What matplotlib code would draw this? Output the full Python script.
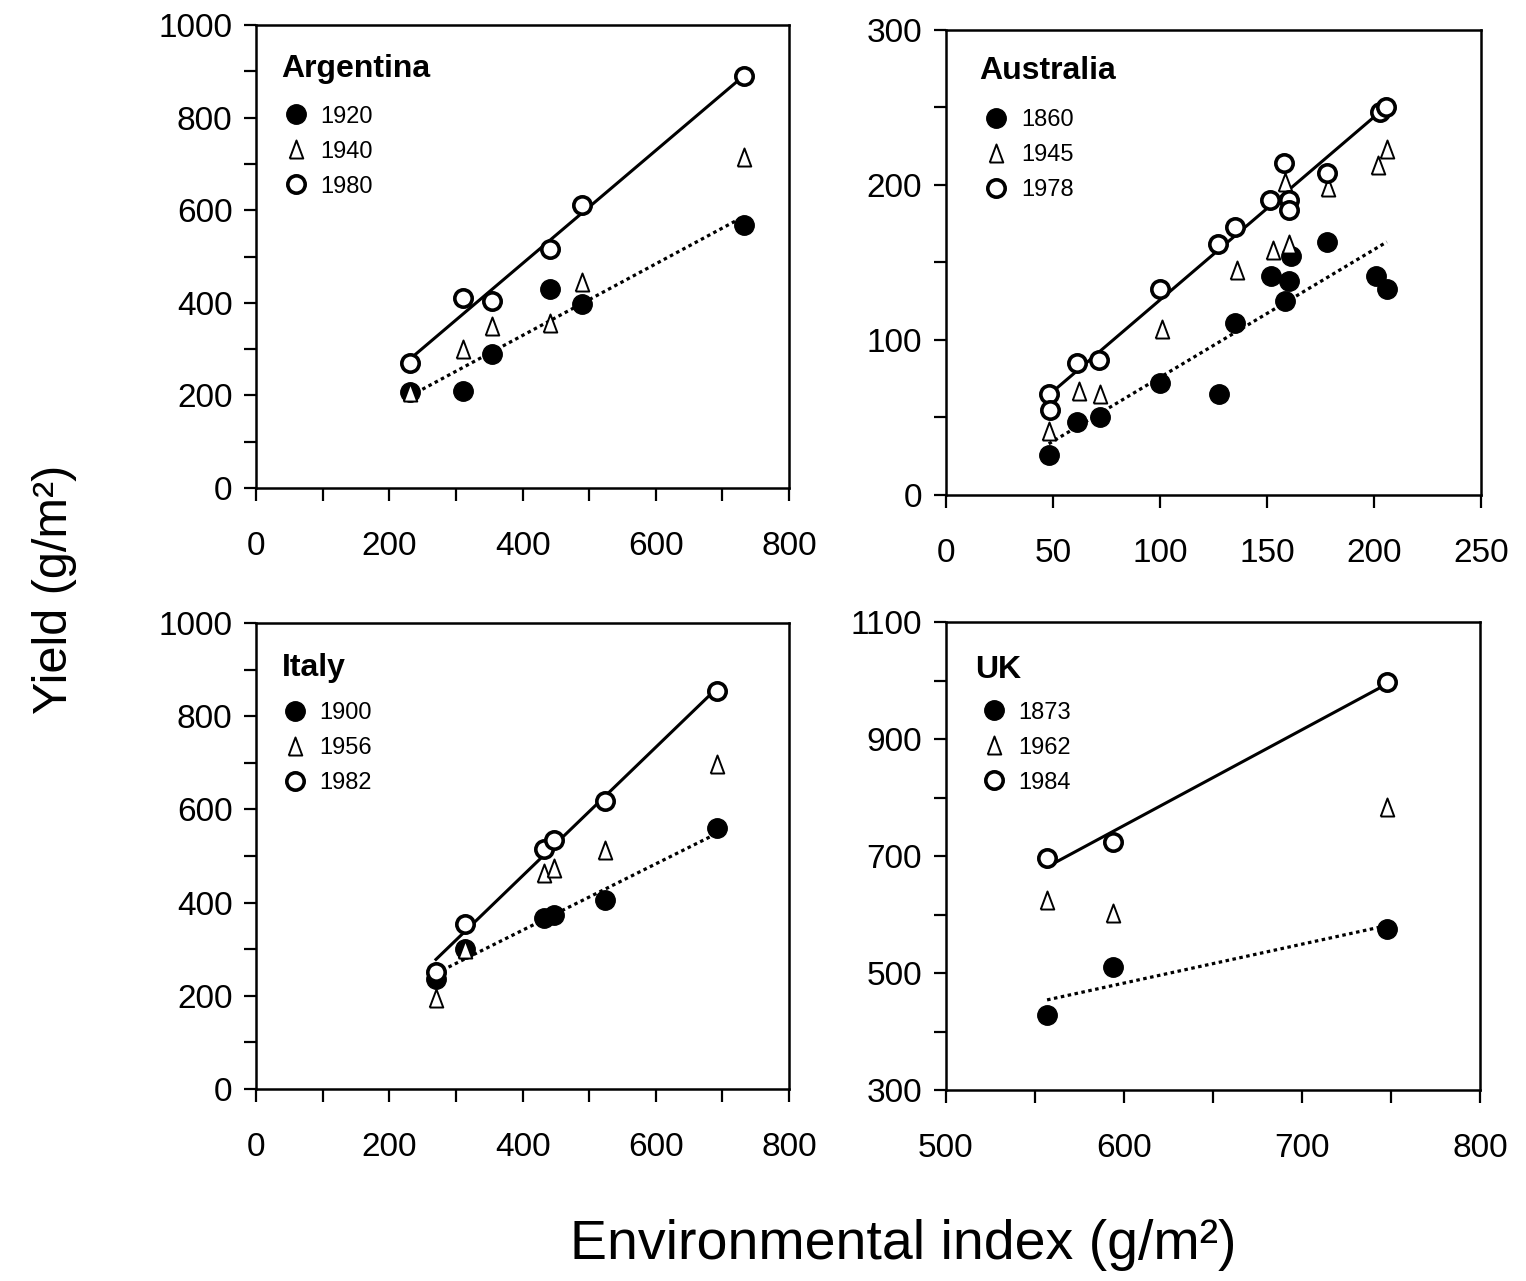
import numpy as np
import matplotlib
matplotlib.use("Agg")
import matplotlib.pyplot as plt
from matplotlib.ticker import MultipleLocator

plt.rcParams['font.family'] = ['Liberation Sans', 'DejaVu Sans']

# Argentina
arg_x = [231, 311, 354, 441, 489, 733]
arg_1920 = [207, 209, 290, 429, 397, 569]
arg_1940 = [207, 300, 350, 357, 446, 715]
arg_1980 = [271, 410, 405, 516, 612, 891]

# Australia (points per series, some hidden under others)
aus_1860_x = [48, 61, 72, 100, 127.5, 135, 152, 158.5, 160.5, 161, 178, 201, 206]
aus_1860_y = [26, 47, 50, 72, 65, 111, 141, 125, 138, 154, 163, 141, 133]
aus_1945_x = [48, 62, 72, 101, 136, 153, 158.5, 160.5, 178.5, 202, 206]
aus_1945_y = [41, 67, 65, 107, 145, 158, 202, 162, 199, 213, 223]
aus_1978_x = [48, 48.5, 61, 71.5, 100, 127, 135, 151.5, 158, 160.5, 160.5, 178, 203, 205.5]
aus_1978_y = [65, 55, 85, 87, 133, 162, 173, 190, 214, 190, 184, 208, 247, 250]

# Italy
ita_x = [270, 313, 432, 447, 524, 692]
ita_1900 = [237, 300, 367, 373, 405, 560]
ita_1956 = [195, 300, 463, 474, 512, 697]
ita_1982 = [251, 355, 516, 534, 617, 855]

# UK
uk_x = [557, 594, 748]
uk_1873 = [428, 511, 575]
uk_1962 = [625, 602, 784]
uk_1984 = [696, 724, 998]

tri = [(-0.75, -1.0), (0.75, -1.0), (0.0, 1.0), (-0.75, -1.0)]

panels = [
    dict(name='Argentina', rect=[0.1678, 0.6190, 0.3493, 0.3614],
         early=(arg_x, arg_1920, '1920'), mid=(arg_x, arg_1940, '1940'), late=(arg_x, arg_1980, '1980'),
         xlim=(0, 800), ylim=(0, 1000), xmaj=(200, 0), xmin=100, ymaj=(200, 0), ymin=100,
         title_xy=(0.048, 0.905), leg_xy=(0.052, 0.826)),
    dict(name='Australia', rect=[0.6199, 0.6136, 0.3506, 0.3630],
         early=(aus_1860_x, aus_1860_y, '1860'), mid=(aus_1945_x, aus_1945_y, '1945'),
         late=(aus_1978_x, aus_1978_y, '1978'),
         xlim=(0, 250), ylim=(0, 300), xmaj=(50, 0), xmin=50, ymaj=(100, 0), ymin=50,
         title_xy=(0.063, 0.912), leg_xy=(0.072, 0.83)),
    dict(name='Italy', rect=[0.1678, 0.1499, 0.3493, 0.3638],
         early=(ita_x, ita_1900, '1900'), mid=(ita_x, ita_1956, '1956'), late=(ita_x, ita_1982, '1982'),
         xlim=(0, 800), ylim=(0, 1000), xmaj=(200, 0), xmin=100, ymaj=(200, 0), ymin=100,
         title_xy=(0.048, 0.903), leg_xy=(0.050, 0.83)),
    dict(name='UK', rect=[0.6196, 0.1491, 0.3503, 0.3653],
         early=(uk_x, uk_1873, '1873'), mid=(uk_x, uk_1962, '1962'), late=(uk_x, uk_1984, '1984'),
         xlim=(500, 800), ylim=(300, 1100), xmaj=(100, 0), xmin=50, ymaj=(200, 100), ymin=100,
         title_xy=(0.055, 0.897), leg_xy=(0.068, 0.83)),
]

fig = plt.figure(figsize=(15.26, 12.81), dpi=100)

for p in panels:
    ax = fig.add_axes(p['rect'])
    ex, ey, elab = p['early']
    mx, my, mlab = p['mid']
    lx, ly, llab = p['late']

    # regression lines: earliest year dotted, latest year solid
    for xs, ys, ls in [(ex, ey, (0, (1.1, 1.1))), (lx, ly, '-')]:
        xs = np.asarray(xs, float)
        ys = np.asarray(ys, float)
        k, b = np.polyfit(xs, ys, 1)
        xx = np.array([xs.min(), xs.max()])
        ax.plot(xx, k * xx + b, color='black', lw=2.3 if ls != '-' else 2.2, linestyle=ls, zorder=2)

    h1, = ax.plot(ex, ey, linestyle='none', marker='o', ms=14, mfc='black', mec='black', zorder=3, label=elab)
    h2, = ax.plot(mx, my, linestyle='none', marker=tri, ms=13, mfc='white', mec='black', mew=1.4,
                  zorder=4, label=mlab)
    h3, = ax.plot(lx, ly, linestyle='none', marker='o', ms=12.5, mfc='white', mec='black', mew=2.6,
                  zorder=5, label=llab)

    ax.set_xlim(*p['xlim'])
    ax.set_ylim(*p['ylim'])
    ax.xaxis.set_major_locator(MultipleLocator(p['xmaj'][0], offset=p['xmaj'][1]))
    ax.xaxis.set_minor_locator(MultipleLocator(p['xmin']))
    ax.yaxis.set_major_locator(MultipleLocator(p['ymaj'][0], offset=p['ymaj'][1]))
    ax.yaxis.set_minor_locator(MultipleLocator(p['ymin']))
    ax.tick_params(axis='both', which='both', direction='out', width=1.6, length=9, labelsize=24)
    ax.tick_params(axis='x', which='major', pad=22)
    ax.tick_params(axis='y', which='major', pad=8)
    for s in ax.spines.values():
        s.set_linewidth(1.8)

    ax.text(p['title_xy'][0], p['title_xy'][1], p['name'], transform=ax.transAxes,
            fontsize=23, fontweight='bold', ha='left', va='center')
    ax.legend(handles=[h1, h2, h3], loc='upper left', bbox_to_anchor=p['leg_xy'], frameon=False,
              fontsize=17, borderpad=0, borderaxespad=0, handlelength=1.0, handletextpad=0.55,
              labelspacing=0.55)

fig.text(0.036, 0.54, 'Yield (g/m²)', rotation=90, fontsize=35, ha='center', va='center')
fig.text(0.592, 0.028, 'Environmental index (g/m²)', fontsize=40, ha='center', va='center')

fig.savefig('out.png', dpi=100)
